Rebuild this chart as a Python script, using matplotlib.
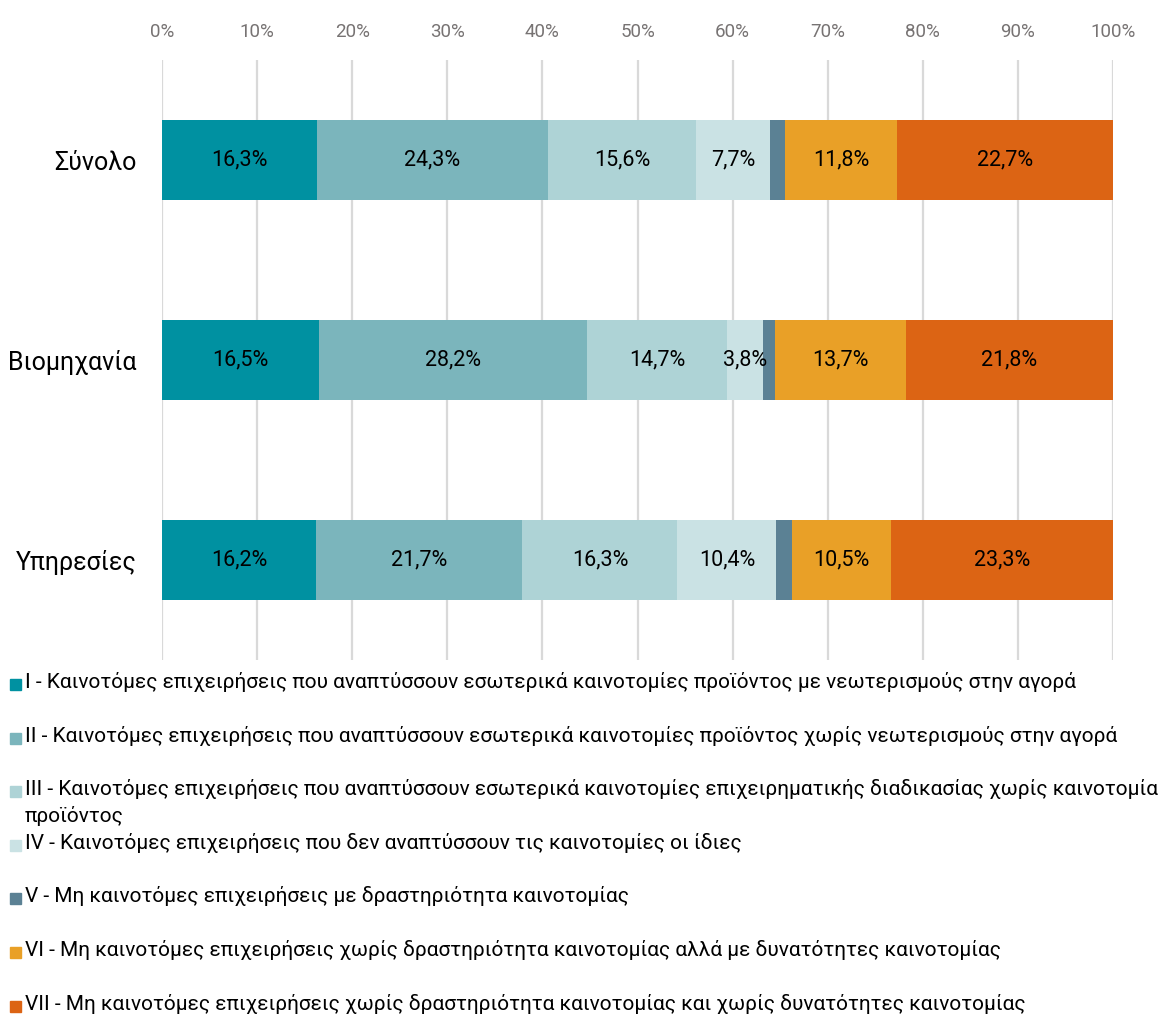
import matplotlib
matplotlib.use('Agg')
import matplotlib.pyplot as plt
from matplotlib.patches import Rectangle

plt.rcParams['font.family'] = ['Roboto', 'DejaVu Sans']

categories = ['Σύνολο', 'Βιομηχανία', 'Υπηρεσίες']
series_names = [
    'I - Καινοτόμες επιχειρήσεις που αναπτύσσουν εσωτερικά καινοτομίες προϊόντος με νεωτερισμούς στην αγορά',
    'II - Καινοτόμες επιχειρήσεις που αναπτύσσουν εσωτερικά καινοτομίες προϊόντος χωρίς νεωτερισμούς στην αγορά',
    'III - Καινοτόμες επιχειρήσεις που αναπτύσσουν εσωτερικά καινοτομίες επιχειρηματικής διαδικασίας χωρίς καινοτομία\nπροϊόντος',
    'IV - Καινοτόμες επιχειρήσεις που δεν αναπτύσσουν τις καινοτομίες οι ίδιες',
    'V - Μη καινοτόμες επιχειρήσεις με δραστηριότητα καινοτομίας',
    'VI - Μη καινοτόμες επιχειρήσεις χωρίς δραστηριότητα καινοτομίας αλλά με δυνατότητες καινοτομίας',
    'VII - Μη καινοτόμες επιχειρήσεις χωρίς δραστηριότητα καινοτομίας και χωρίς δυνατότητες καινοτομίας',
]
colors = ['#0091A1', '#7BB5BC', '#AED3D6', '#CAE2E4', '#5B8194', '#E9A027', '#DC6414']

# values per series, order: Σύνολο, Βιομηχανία, Υπηρεσίες
s1 = [16.3, 16.5, 16.2]
s2 = [24.3, 28.2, 21.7]
s3 = [15.6, 14.7, 16.3]
s4 = [7.7, 3.8, 10.4]
s5 = [1.6, 1.3, 1.6]
s6 = [11.8, 13.7, 10.5]
s7 = [22.7, 21.8, 23.3]
series = [s1, s2, s3, s4, s5, s6, s7]
show_label = [True, True, True, True, False, True, True]

W, H = 1163, 1018
fig = plt.figure(figsize=(W / 100, H / 100), dpi=100)
ax = fig.add_axes([162 / W, 1 - 660 / H, (1113 - 162) / W, 600 / H])

ypos = list(range(len(categories)))
left = [0.0] * len(categories)
for vals, col, lab in zip(series, colors, show_label):
    fr = [v / 100 for v in vals]
    bars = ax.barh(ypos, fr, left=left, height=0.4, color=col, zorder=3)
    if lab:
        for b, v in zip(bars, vals):
            ax.text(b.get_x() + b.get_width() / 2, b.get_y() + b.get_height() / 2,
                    f'{v:.1f}%'.replace('.', ','), ha='center', va='center',
                    fontsize=15.5, color='black', zorder=4)
    left = [l + f for l, f in zip(left, fr)]

ax.set_xlim(0, 1)
ax.set_ylim(2.5, -0.5)
ax.set_yticks(ypos)
ax.set_yticklabels(categories, fontsize=18)
ax.set_xticks([i / 10 for i in range(11)])
ax.set_xticklabels([f'{i * 10}%' for i in range(11)], fontsize=13.5, color='#777373')
ax.xaxis.tick_top()
ax.tick_params(axis='x', length=0, pad=14)
ax.tick_params(axis='y', length=0, pad=18)
ax.grid(axis='x', color='#D9D9D9', linewidth=1.6, zorder=0)
for s in ax.spines.values():
    s.set_visible(False)

# legend, one entry per line
y0 = 685
step = 53.6
for i, (name, col) in enumerate(zip(series_names, colors)):
    yc = y0 + step * i
    fig.patches.append(Rectangle((10 / W, 1 - (yc + 5) / H), 11 / W, 11 / H,
                                 transform=fig.transFigure, color=col, figure=fig))
    fig.text(25 / W, 1 - (yc - 13) / H, name, ha='left', va='top',
             fontsize=15, color='black', linespacing=1.4)

fig.savefig('out.png', dpi=100)
